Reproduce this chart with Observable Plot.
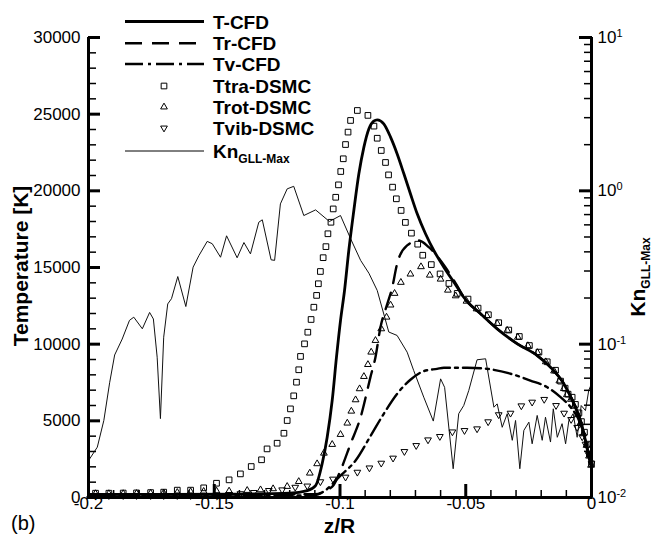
<!DOCTYPE html>
<html><head><meta charset="utf-8">
<script src="https://cdn.jsdelivr.net/npm/d3@7"></script>
<script src="https://cdn.jsdelivr.net/npm/@observablehq/plot@0.6"></script>
<style>
html,body{margin:0;padding:0;background:#fff;}
#chart{width:654px;height:537px;}
</style>
</head><body><div id="chart"></div>
<script>
const FONT = "'Liberation Sans', Arial, Helvetica, sans-serif";

// ---- T-CFD (solid) ----
const tcfdZ = [-0.2, -0.17, -0.14, -0.12, -0.113, -0.1097, -0.1071, -0.1051, -0.1031, -0.1014, -0.0998, -0.0982, -0.0965, -0.0945, -0.0925, -0.0905, -0.0885, -0.0866, -0.0852, -0.0826, -0.0799, -0.0773, -0.0746, -0.0720, -0.0693, -0.0660, -0.0627, -0.0587, -0.0534, -0.0508, -0.0441, -0.0375, -0.0295, -0.0216, -0.0163, -0.0110, -0.0070, -0.0044, -0.0024, -0.0007, 0];
const tcfdT = [200, 200, 220, 280, 450, 780, 2200, 3930, 6330, 9150, 11540, 13500, 16110, 18720, 21110, 22850, 24050, 24540, 24630, 24370, 23500, 22420, 21110, 19810, 18500, 17200, 16110, 15020, 13720, 13060, 11980, 11000, 10020, 9260, 8500, 7420, 6110, 5020, 3720, 2410, 2020];

// ---- Tr-CFD (dashed) ----
const trcfdZ = [-0.2, -0.15, -0.11, -0.105, -0.1026, -0.0998, -0.0958, -0.0918, -0.0879, -0.0859, -0.0839, -0.0812, -0.0792, -0.0773, -0.0733, -0.0687, -0.0647, -0.0581, -0.0534, -0.0508, -0.0441, -0.0375, -0.0295, -0.0216, -0.0163, -0.0110, -0.0070, -0.0044, -0.0024, -0.0007, 0];
const trcfdT = [200, 200, 220, 500, 800, 1760, 3500, 5240, 7850, 9150, 11110, 12630, 13720, 15240, 16440, 16760, 16330, 15020, 13800, 13060, 11980, 11000, 10020, 9260, 8500, 7420, 6110, 5020, 3720, 2410, 2020];

// ---- Tv-CFD (dash-dot) ----
const tvcfdZ = [-0.2, -0.15, -0.11, -0.1064, -0.0998, -0.0938, -0.0879, -0.0826, -0.0773, -0.0720, -0.0667, -0.0614, -0.0587, -0.0494, -0.0415, -0.0322, -0.0243, -0.0176, -0.0123, -0.0083, -0.0044, -0.0017, 0];
const tvcfdT = [100, 100, 150, 400, 1430, 2410, 4000, 5460, 6760, 7680, 8240, 8390, 8460, 8460, 8390, 8070, 7630, 7190, 6540, 5890, 4810, 3280, 2090];

// ---- Ttra-DSMC (squares) ----
const ttraZ = [-0.1972, -0.1919, -0.1862, -0.1809, -0.1753, -0.1701, -0.1647, -0.1594, -0.1542, -0.1491, -0.1441, -0.1396, -0.1353, -0.1312, -0.1290, -0.1250, -0.1223, -0.1210, -0.1197, -0.1184, -0.1173, -0.1164, -0.1157, -0.1141, -0.1128, -0.1115, -0.1104, -0.1093, -0.1086, -0.1078, -0.1067, -0.1056, -0.1048, -0.1036, -0.1027, -0.1017, -0.1006, -0.0997, -0.0987, -0.0978, -0.0968, -0.0958, -0.0931, -0.0889, -0.0865, -0.0852, -0.0836, -0.0819, -0.0807, -0.0791, -0.0776, -0.0757, -0.0740, -0.0716, -0.0691, -0.0671, -0.0637, -0.0602, -0.0567, -0.0534, -0.0491, -0.0451, -0.0410, -0.0369, -0.0329, -0.0287, -0.0247, -0.0209, -0.0176, -0.0143, -0.0123, -0.0105, -0.0093, -0.0077, -0.0064, -0.0050, -0.0040, -0.0028, -0.0017, -0.0008, 0];
const ttraT = [280, 280, 290, 300, 320, 350, 480, 480, 630, 930, 1150, 1540, 2020, 2460, 3170, 3540, 4190, 5020, 5780, 6630, 7520, 8330, 9200, 10020, 10780, 11610, 12410, 13180, 13940, 14740, 15640, 16360, 17200, 17950, 18820, 19580, 20390, 21260, 22090, 23020, 23830, 24590, 25240, 24920, 24220, 23430, 22630, 21850, 21040, 20240, 19480, 18720, 17940, 17240, 16520, 15800, 15190, 14580, 13960, 13310, 12940, 12350, 11920, 11400, 10920, 10500, 9910, 9480, 8850, 8300, 7590, 7130, 6740, 6540, 6070, 5520, 4950, 4260, 3480, 2810, 2200];

// ---- Trot-DSMC (up triangles) ----
const trotZ = [-0.1972, -0.1919, -0.1862, -0.1809, -0.1753, -0.1701, -0.1647, -0.1594, -0.1542, -0.1491, -0.1441, -0.1369, -0.1316, -0.1266, -0.1210, -0.1164, -0.1120, -0.1091, -0.1064, -0.1031, -0.0998, -0.0971, -0.0955, -0.0938, -0.0922, -0.0905, -0.0889, -0.0876, -0.0859, -0.0836, -0.0815, -0.0799, -0.0783, -0.0758, -0.0720, -0.0678, -0.0643, -0.0600, -0.0571, -0.0540, -0.0497, -0.0457, -0.0416, -0.0375, -0.0335, -0.0293, -0.0253, -0.0215, -0.0182, -0.0149, -0.0128, -0.0110, -0.0098, -0.0082, -0.0069, -0.0055, -0.0044, -0.0032, -0.0020, -0.0010, -0.0002];
const trotT = [250, 250, 250, 260, 280, 300, 330, 380, 400, 420, 420, 460, 500, 570, 720, 1040, 1590, 2200, 2890, 3460, 4110, 4850, 5630, 6370, 7090, 7890, 8670, 9480, 10240, 11000, 11760, 12550, 13310, 14030, 14570, 15050, 14500, 14240, 13520, 13150, 12800, 12300, 11850, 11350, 10900, 10450, 9900, 9450, 8850, 8250, 7600, 7100, 6700, 6400, 5950, 5400, 4850, 4150, 3400, 2700, 2100];

// ---- Tvib-DSMC (down triangles) ----
const tvibZ = [-0.1972, -0.1919, -0.1862, -0.1809, -0.1753, -0.1701, -0.1647, -0.1594, -0.1542, -0.1491, -0.1441, -0.1396, -0.1343, -0.1283, -0.1230, -0.1178, -0.1130, -0.1078, -0.1028, -0.0978, -0.0931, -0.0883, -0.0836, -0.0789, -0.0744, -0.0697, -0.0650, -0.0603, -0.0553, -0.0505, -0.0455, -0.0411, -0.0369, -0.0322, -0.0279, -0.0236, -0.0188, -0.0141, -0.0109, -0.0081, -0.0057, -0.0037, -0.0024, -0.0011, 0];
const tvibT = [130, 130, 130, 130, 130, 130, 130, 130, 150, 170, 200, 250, 330, 460, 500, 670, 750, 1030, 1200, 1330, 1650, 1930, 2240, 2570, 3000, 3390, 3760, 3980, 4280, 4370, 4480, 4940, 5400, 5500, 5980, 6220, 6400, 6000, 5500, 5090, 4570, 3960, 3480, 2800, 2200];

// ---- Kn GLL-Max (thin line, right log axis) ----
const knZ = [-0.2000, -0.1965, -0.1939, -0.1916, -0.1896, -0.1866, -0.1837, -0.1820, -0.1786, -0.1757, -0.1742, -0.1727, -0.1714, -0.1701, -0.1685, -0.1670, -0.1645, -0.1613, -0.1584, -0.1561, -0.1528, -0.1508, -0.1475, -0.1451, -0.1409, -0.1382, -0.1356, -0.1323, -0.1309, -0.1274, -0.1260, -0.1237, -0.1210, -0.1184, -0.1144, -0.1097, -0.1042, -0.0998, -0.0956, -0.0918, -0.0885, -0.0852, -0.0806, -0.0773, -0.0733, -0.0707, -0.0667, -0.0629, -0.0600, -0.0584, -0.0550, -0.0528, -0.0508, -0.0488, -0.0455, -0.0421, -0.0388, -0.0375, -0.0355, -0.0335, -0.0315, -0.0302, -0.0285, -0.0269, -0.0249, -0.0236, -0.0216, -0.0196, -0.0183, -0.0163, -0.0152, -0.0136, -0.0117, -0.0103, -0.0090, -0.0073, -0.0057, -0.0041, -0.0024, -0.0011, 0];
const knV = [0.0174, 0.0213, 0.0318, 0.0560, 0.0850, 0.108, 0.143, 0.150, 0.126, 0.161, 0.146, 0.0822, 0.0327, 0.111, 0.183, 0.198, 0.276, 0.176, 0.318, 0.378, 0.468, 0.452, 0.369, 0.509, 0.366, 0.460, 0.388, 0.624, 0.647, 0.355, 0.352, 0.822, 1.03, 1.07, 0.690, 0.751, 0.631, 0.690, 0.480, 0.352, 0.290, 0.224, 0.120, 0.114, 0.0887, 0.0673, 0.0451, 0.0315, 0.0594, 0.0523, 0.0154, 0.0352, 0.0398, 0.0499, 0.0791, 0.0803, 0.0388, 0.0408, 0.0287, 0.0352, 0.0236, 0.0318, 0.0154, 0.0274, 0.0310, 0.0224, 0.0343, 0.0236, 0.0334, 0.0230, 0.0379, 0.0247, 0.0303, 0.0224, 0.0318, 0.0352, 0.0247, 0.0398, 0.0369, 0.0499, 0.0552];

// ---- ticks ----
const tempMajor = [0, 5000, 10000, 15000, 20000, 25000, 30000];
const tempMinor = d3.range(0, 30001, 1000).filter(v => v % 5000 !== 0);
const zMajor = [-0.2, -0.15, -0.1, -0.05, 0];
const zMinor = d3.range(-19, 0).filter(v => v % 5 !== 0).map(v => v / 100);
const knMajorExp = [-2, -1, 0, 1];
const knMinor = [0.01, 0.1, 1].flatMap(d => d3.range(2, 10).map(m => m * d));

const legendLabels = ["T-CFD", "Tr-CFD", "Tv-CFD", "Ttra-DSMC", "Trot-DSMC", "Tvib-DSMC", "Kn"];

// secondary log scale (Kn) mapped onto the temperature coordinate
const knToT = d3.scaleLog().domain([0.01, 10]).range([0, 30000]);

const zip = (zs, ts) => zs.map((z, i) => ({z, t: ts[i]}));
const tcfd = zip(tcfdZ, tcfdT), trcfd = zip(trcfdZ, trcfdT), tvcfd = zip(tvcfdZ, tvcfdT);
const ttra = zip(ttraZ, ttraT), trot = zip(trotZ, trotT), tvib = zip(tvibZ, tvibT);
const kn = knZ.map((z, i) => ({z, t: knToT(knV[i])}));

const SQ_R = 3.2, TRI_R = 2.5;
const DASHDOT = "18,5,3,5";

const plot = Plot.plot({
  width: 654, height: 537,
  marginLeft: 88, marginRight: 63, marginTop: 37, marginBottom: 40,
  style: {fontFamily: FONT, fontSize: "17px", color: "#000", background: "#fff", overflow: "visible"},
  x: {domain: [-0.2, 0], axis: null, label: null},
  y: {domain: [0, 30000], axis: null, label: null},
  marks: [
    // data
    Plot.line(kn, {x: "z", y: "t", stroke: "#111", strokeWidth: 1}),
    Plot.line(tvcfd, {x: "z", y: "t", stroke: "#000", strokeWidth: 2.4, strokeDasharray: DASHDOT, curve: "monotone-x"}),
    Plot.line(trcfd, {x: "z", y: "t", stroke: "#000", strokeWidth: 2.4, strokeDasharray: "17,10", curve: "monotone-x"}),
    Plot.line(tcfd, {x: "z", y: "t", stroke: "#000", strokeWidth: 2.8, curve: "monotone-x"}),
    Plot.dot(ttra, {x: "z", y: "t", symbol: "square", r: SQ_R, stroke: "#000", strokeWidth: 1, fill: "none"}),
    Plot.dot(trot, {x: "z", y: "t", symbol: "triangle", r: TRI_R, stroke: "#000", strokeWidth: 1, fill: "none"}),
    Plot.dot(tvib, {x: "z", y: "t", symbol: "triangle", r: TRI_R, rotate: 180, stroke: "#000", strokeWidth: 1, fill: "none"}),
    // axis lines
    Plot.ruleX([-0.2, 0], {stroke: "#000", strokeWidth: 3}),
    Plot.ruleY([0], {stroke: "#000", strokeWidth: 3, strokeLinecap: "square"}),
    // left ticks (inward)
    Plot.axisY({anchor: "left", ticks: tempMajor, tickSize: 12, dx: 12, strokeWidth: 3, fill: "none", label: null}),
    Plot.axisY({anchor: "left", ticks: tempMinor, tickSize: 8, dx: 8, strokeWidth: 1.5, fill: "none", label: null}),
    Plot.axisY({anchor: "left", ticks: tempMajor, tickSize: 0, tickPadding: 8, tickFormat: d => String(d), label: null, fontSize: 17}),
    // bottom ticks (inward)
    Plot.axisX({anchor: "bottom", ticks: zMajor, tickSize: 13, dy: -13, strokeWidth: 3, fill: "none", label: null}),
    Plot.axisX({anchor: "bottom", ticks: zMinor, tickSize: 7, dy: -7, strokeWidth: 1.5, fill: "none", label: null}),
    Plot.axisX({anchor: "bottom", ticks: zMajor, tickSize: 0, tickPadding: -1, tickFormat: d => String(d), label: null, fontSize: 17}),
    // right log ticks (inward)
    Plot.axisY({anchor: "right", ticks: knMajorExp.map(e => knToT(Math.pow(10, e))), tickSize: 13, dx: -13, strokeWidth: 3, fill: "none", label: null}),
    Plot.axisY({anchor: "right", ticks: knMinor.map(v => knToT(v)), tickSize: 8, dx: -8, strokeWidth: 1.5, fill: "none", label: null}),
    Plot.axisY({anchor: "right", ticks: knMajorExp.map(e => knToT(Math.pow(10, e))), tickSize: 0, tickPadding: 6,
      tickFormat: v => "10^" + Math.round(Math.log10(knToT.invert(v))), label: null, fontSize: 17})
  ]
});

document.getElementById("chart").appendChild(plot);
const svg = d3.select(plot);

// superscripts on right axis labels
svg.selectAll("text").each(function() {
  const s = this.textContent;
  const m = /^10\^(-?\d+)$/.exec(s);
  if (m) {
    const t = d3.select(this);
    t.text("10");
    t.append("tspan").attr("dy", "-0.55em").attr("font-size", 11).text(m[1]);
  }
});

// axis titles
svg.append("text")
  .attr("transform", "translate(28,266) rotate(-90)")
  .attr("text-anchor", "middle").attr("font-family", FONT).attr("font-weight", "bold").attr("font-size", 21)
  .attr("fill", "#000").text("Temperature [K]");
const kt = svg.append("text")
  .attr("transform", "translate(645,277) rotate(-90)")
  .attr("text-anchor", "middle").attr("font-family", FONT).attr("font-weight", "bold").attr("font-size", 21)
  .attr("fill", "#000");
kt.append("tspan").text("Kn");
kt.append("tspan").attr("dy", 5).attr("font-size", 12).text("GLL-Max");
svg.append("text").attr("x", 339.5).attr("y", 533).attr("text-anchor", "middle")
  .attr("font-family", FONT).attr("font-weight", "bold").attr("font-size", 21).attr("fill", "#000").text("z/R");
svg.append("text").attr("x", 11).attr("y", 530).attr("text-anchor", "start")
  .attr("font-family", FONT).attr("font-size", 20).attr("fill", "#000").text("(b)");

// legend
const lg = svg.append("g").attr("font-family", FONT).attr("font-weight", "bold").attr("font-size", 19)
  .attr("fill", "#000").attr("text-anchor", "start");
const rowsY = [21.5, 43.3, 64, 86, 107, 128, 151];
const x0 = 125, x1 = 204, xm = 164, xt = 213;
const lineStyle = [
  {w: 2.8, dash: null}, {w: 2.4, dash: "17,10"}, {w: 2.4, dash: DASHDOT}
];
legendLabels.forEach((lab, i) => {
  const y = rowsY[i];
  if (i < 3 || i === 6) {
    const st = i === 6 ? {w: 1, dash: null} : lineStyle[i];
    lg.append("line").attr("x1", x0).attr("x2", x1).attr("y1", y).attr("y2", y)
      .attr("stroke", "#000").attr("stroke-width", st.w).attr("stroke-dasharray", st.dash);
  } else {
    const sym = i === 3 ? d3.symbolSquare : d3.symbolTriangle;
    const r = i === 3 ? SQ_R : TRI_R;
    lg.append("path").attr("d", d3.symbol(sym, Math.PI * r * r)())
      .attr("transform", `translate(${xm},${y})` + (i === 5 ? " rotate(180)" : ""))
      .attr("fill", "none").attr("stroke", "#000").attr("stroke-width", 1);
  }
  const t = lg.append("text").attr("x", xt).attr("y", y + 7).attr("text-anchor", "start");
  t.append("tspan").text(lab);
  if (i === 6) t.append("tspan").attr("dy", 5).attr("font-size", 12).text("GLL-Max");
});
</script>
</body></html>
